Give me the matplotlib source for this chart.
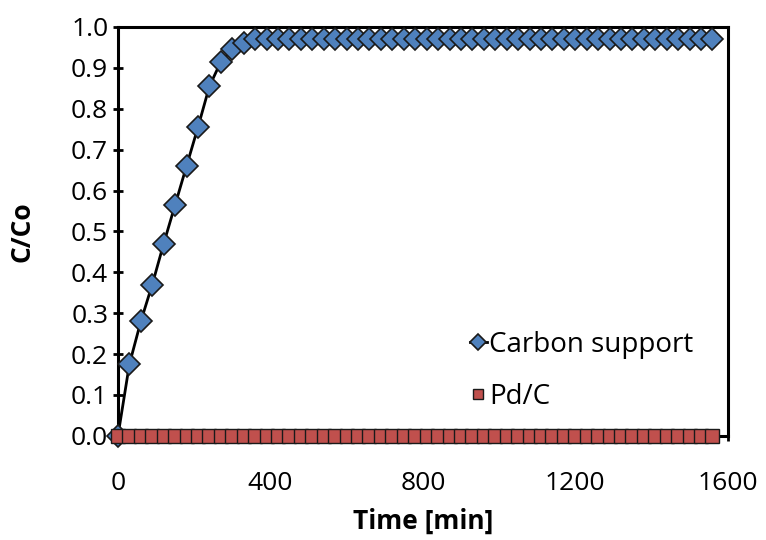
import matplotlib
matplotlib.use('Agg')
import numpy as np
import matplotlib.pyplot as plt

plt.rcParams['font.family'] = ['Open Sans', 'DejaVu Sans']

# DATA

time_min = list(range(0, 1561, 30))
carbon_rise = [0.0, 0.175, 0.28, 0.37, 0.47, 0.565, 0.66, 0.755, 0.855, 0.915, 0.945, 0.96]
carbon_plateau = 0.97
carbon_support = carbon_rise + [carbon_plateau] * (len(time_min) - len(carbon_rise))
pd_c = [0.0] * len(time_min)

x_ticks = [0, 400, 800, 1200, 1600]
y_ticks = np.round(np.arange(0, 1.01, 0.1), 1)

# FIGURE

fig = plt.figure(figsize=(7.66, 5.4), dpi=100)
ax = fig.add_axes([0.154, 0.193, 0.796, 0.757])

ax.plot(time_min, carbon_support, color='black', lw=2, marker='D', ms=11,
        mfc='#4F81BD', mec='#1a1a1a', mew=1.2, label='Carbon support', zorder=3,
        clip_on=False)
ax.plot(time_min, pd_c, marker='s', ms=10.6,
        mfc='#C0504D', mec='#1a1a1a', mew=1.0, ls='none', label='Pd/C', zorder=4,
        clip_on=False)

ax.set_xlim((0, 1600))
ax.set_ylim((0, 1.0))
ax.set_xticks(x_ticks)
ax.set_yticks(y_ticks)
ax.set_yticklabels([f'{v:.1f}' for v in y_ticks])
ax.tick_params(axis='both', labelsize=19, width=2, length=7, direction='inout')
ax.tick_params(axis='x', pad=22)
for sp in ax.spines.values():
    sp.set_linewidth(2.2)

ax.set_xlabel('Time [min]', fontsize=19, fontweight='bold', labelpad=8)
ax.set_ylabel('C/Co', fontsize=19, fontweight='bold', labelpad=26)

ax.legend(loc='lower right', bbox_to_anchor=(0.985, 0.0), frameon=False, fontsize=20,
          handlelength=0.6, handletextpad=0.1, labelspacing=0.85, markerscale=0.7)

fig.savefig('out.png', dpi=100)
plt.close(fig)
